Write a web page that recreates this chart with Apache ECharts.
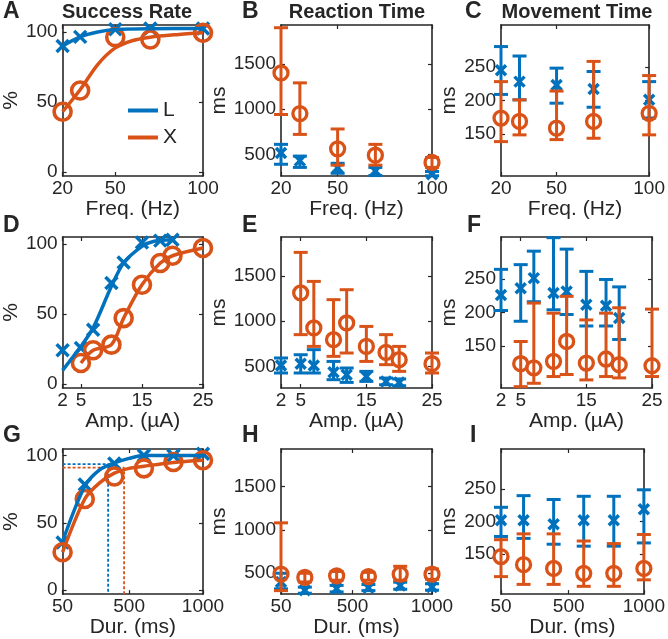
<!DOCTYPE html>
<html><head><meta charset="utf-8">
<script src="https://cdn.jsdelivr.net/npm/echarts@6/dist/echarts.min.js"></script>
<style>html,body{margin:0;padding:0;background:#fff}#c{width:668px;height:639px}</style>
</head><body><div id="c"></div>
<script>
// ---------------- DATA ----------------
// Row 1: stimulation frequency (Hz)
const freqs = [20, 30, 50, 70, 100];
const freqTicks = [20, 50, 100];
const successFreqL = [90, 96.5, 102, 102.5, 102.5];
const successFreqX = [43, 58.2, 96.3, 94.6, 99.4];
const fitFreqLx = [20, 30, 40, 50, 70, 100];
const fitFreqL  = [90, 96.5, 100, 101.8, 102.4, 102.5];
const fitFreqXx = [20, 30, 40, 50, 60, 70, 85, 100];
const fitFreqX  = [43, 58.7, 76.7, 88.6, 93.9, 96.3, 98.1, 99.4];
const rtFreqL   = [515, 430, 350, 315, 280];
const rtFreqLlo = [390, 355, 290, 265, 262];
const rtFreqLhi = [610, 480, 400, 355, 310];
const rtFreqX   = [1400, 950, 560, 490, 410];
const rtFreqXlo = [940, 720, 380, 380, 355];
const rtFreqXhi = [1900, 1290, 780, 610, 465];
const mtFreqL   = [245, 228, 223, 217, 201];
const mtFreqLlo = [209, 201, 196, 190, 174];
const mtFreqLhi = [280, 266, 248, 243, 228];
const mtFreqX   = [174, 169, 159, 169, 181];
const mtFreqXlo = [139, 149, 142, 144, 149];
const mtFreqXhi = [228, 201, 214, 258, 237];

// Row 2: amplitude (µA)
const ampsL = [2, 5, 7, 10, 12, 15, 18, 20];
const ampsX = [5, 7, 10, 12, 15, 18, 20, 25];
const ampTicks = [2, 5, 15, 25];
const successAmpL = [24, 25.6, 38.7, 72.1, 86.8, 101, 102.4, 103];
const successAmpX = [14.9, 24, 28, 47, 70.9, 86.4, 91.6, 97.1];
const fitAmpLx = [2, 5, 7, 10, 12, 15, 17, 20];
const fitAmpL  = [9.6, 26.8, 40, 69.7, 86.4, 98.3, 101.9, 103];
const fitAmpXx = [5, 7, 10, 12, 15, 18, 20, 25];
const fitAmpX  = [14.9, 24, 28, 47, 70.9, 86.4, 91.6, 97.1];
const rtAmpL   = [510, 529, 510, 433, 407, 388, 333, 322];
const rtAmpLlo = [426, 426, 426, 352, 322, 333, 296, 285];
const rtAmpLhi = [592, 628, 684, 554, 481, 444, 370, 360];
const rtAmpX   = [1311, 924, 794, 979, 720, 654, 573, 529];
const rtAmpXlo = [850, 720, 610, 647, 554, 518, 444, 426];
const rtAmpXhi = [1760, 1439, 1237, 1347, 941, 850, 720, 647];
const mtAmpL   = [226, 236, 251, 229, 231, 211.5, 210, 192];
const mtAmpLlo = [203, 187, 216, 204, 197, 180, 180, 160];
const mtAmpLhi = [264, 271, 291, 311, 294, 261, 249, 238];
const mtAmpX   = [124, 118, 127.5, 157, 125, 131, 122.5, 121];
const mtAmpXlo = [90, 95, 105, 108, 100, 105, 103, 105];
const mtAmpXhi = [157, 214, 199, 224, 189, 199, 207, 205];

// Row 3: duration (ms)
const durs = [50, 200, 400, 600, 800, 1000];
const durTicks = [50, 500, 1000];
const successDurL = [35.4, 78.6, 94.2, 100.2, 100.2, 101.4];
const successDurX = [28.2, 67.8, 84.5, 90.6, 95.3, 96.6];
const fitDurLx = [50, 200, 300, 400, 500, 600, 1000];
const fitDurL  = [36.2, 77.3, 89.4, 94.6, 98, 100.2, 100.2];
const fitDurXx = [50, 200, 300, 400, 500, 600, 800, 1000];
const fitDurX  = [28.2, 67.8, 79.8, 87, 90.6, 92.2, 95, 96.6];
const threshL = [358, 93.7];   // [duration, %]
const threshX = [466, 91.1];
const rtDurL   = [400, 305, 323, 334, 360, 342];
const rtDurLlo = [320, 270, 285, 300, 316, 305];
const rtDurLhi = [500, 340, 360, 370, 397, 379];
const rtDurX   = [490, 452, 470, 462, 489, 489];
const rtDurXlo = [300, 400, 420, 420, 420, 430];
const rtDurXhi = [1080, 500, 520, 510, 580, 550];
const mtDurL   = [202, 202, 196, 202, 202, 219];
const mtDurLlo = [177, 174, 165, 162, 162, 167];
const mtDurLhi = [222, 240, 234, 239, 239, 249];
const mtDurX   = [146, 133.5, 127.6, 120, 120, 127.6];
const mtDurXlo = [115, 103, 103, 100, 100, 110];
const mtDurXhi = [172, 181, 181, 170, 166, 180];

const panelLetters = ['A','B','C','D','E','F','G','H','I'];
const columnTitles = ['Success Rate', 'Reaction Time', 'Movement Time'];
const xNames = ['Freq. (Hz)', 'Amp. (µA)', 'Dur. (ms)'];
const seriesNames = ['L', 'X'];

// ---------------- STYLE / LAYOUT ----------------
const BLUE = '#0072BD', ORANGE = '#D95319', INK = '#262626';
const FONT = "'Liberation Sans', Arial, Helvetica, sans-serif";
const ROW_TOP = [25, 237, 449], ROW_H = [151, 151, 149];
const COL_LEFT = [52, 281, 501], COL_W = 151;
const XLIM = [[20, 100], [2, 25], [50, 1000]];
const XTICKS = [freqTicks, ampTicks, durTicks];
const YLIM = [[-3, 105], [260, 1930], [88, 312]];
const YTICKS = [[0, 50, 100], [500, 1000, 1500], [150, 200, 250]];
const YNAMES = ['%', 'ms', 'ms'];
const YNAMEGAP = [33, 41, 41];
const plain = v => String(v);

const grids = [], xAxes = [], yAxes = [];
const axLine = {show: true, onZero: false, lineStyle: {color: INK, width: 1.6}};
for (let r = 0; r < 3; r++) {
  for (let c = 0; c < 3; c++) {
    const i = r * 3 + c;
    grids.push({left: COL_LEFT[c], top: ROW_TOP[r], width: COL_W, height: ROW_H[r], containLabel: false});
    xAxes[i] = {
      type: 'value', gridIndex: i, min: XLIM[r][0], max: XLIM[r][1], position: 'bottom',
      name: xNames[r], nameLocation: 'middle', nameGap: 16,
      nameTextStyle: {fontSize: 21, color: INK, fontFamily: FONT, verticalAlign: 'top'},
      axisLine: axLine,
      axisTick: {show: true, inside: true, length: 4, customValues: XTICKS[r], lineStyle: {color: INK, width: 1.2}},
      axisLabel: {show: true, customValues: XTICKS[r], formatter: plain, margin: 3, fontSize: 19, color: INK, fontFamily: FONT},
      splitLine: {show: false}
    };
    xAxes[9 + i] = {
      type: 'value', gridIndex: i, min: XLIM[r][0], max: XLIM[r][1], position: 'top',
      axisLine: axLine,
      axisTick: {show: true, inside: true, length: 4, customValues: XTICKS[r], lineStyle: {color: INK, width: 1.2}},
      axisLabel: {show: false}, splitLine: {show: false}
    };
    yAxes[i] = {
      type: 'value', gridIndex: i, min: YLIM[c][0], max: YLIM[c][1], position: 'left',
      name: YNAMES[c], nameLocation: 'middle', nameGap: YNAMEGAP[c], nameRotate: 90,
      nameTextStyle: {fontSize: 21, color: INK, fontFamily: FONT},
      axisLine: axLine,
      axisTick: {show: true, inside: true, length: 4, customValues: YTICKS[c], lineStyle: {color: INK, width: 1.2}},
      axisLabel: {show: true, customValues: YTICKS[c], formatter: plain, margin: 5, fontSize: 19, color: INK, fontFamily: FONT},
      splitLine: {show: false}
    };
    yAxes[9 + i] = {
      type: 'value', gridIndex: i, min: YLIM[c][0], max: YLIM[c][1], position: 'right',
      axisLine: axLine,
      axisTick: {show: true, inside: true, length: 4, customValues: YTICKS[c], lineStyle: {color: INK, width: 1.2}},
      axisLabel: {show: false}, splitLine: {show: false}
    };
  }
}

// ---------------- RENDER HELPERS ----------------
function markerShape(kind, p, color, big) {
  if (kind === 'o') {
    return {type: 'circle', shape: {cx: p[0], cy: p[1], r: big ? 8.5 : 7},
            style: {fill: 'rgba(0,0,0,0)', stroke: color, lineWidth: big ? 3.6 : 3.3}};
  }
  const s = big ? 6 : 5;
  return {type: 'group', children: [
    {type: 'line', shape: {x1: p[0]-s, y1: p[1]-s, x2: p[0]+s, y2: p[1]+s}, style: {stroke: color, lineWidth: 3.5}},
    {type: 'line', shape: {x1: p[0]-s, y1: p[1]+s, x2: p[0]+s, y2: p[1]-s}, style: {stroke: color, lineWidth: 3.5}}
  ]};
}
function errSeries(idx, xs, mean, lo, hi, kind, color) {
  return {
    type: 'custom', xAxisIndex: idx, yAxisIndex: idx, clip: false,
    data: xs.map((x, k) => [x, mean[k], lo[k], hi[k]]),
    encode: {x: 0, y: 1},
    renderItem: function (params, api) {
      const pm = api.coord([api.value(0), api.value(1)]);
      const pl = api.coord([api.value(0), api.value(2)]);
      const ph = api.coord([api.value(0), api.value(3)]);
      const st = {stroke: color, lineWidth: 3};
      const cap = 7;
      return {type: 'group', children: [
        {type: 'line', shape: {x1: pm[0], y1: pl[1], x2: pm[0], y2: ph[1]}, style: st},
        {type: 'line', shape: {x1: pm[0]-cap, y1: pl[1], x2: pm[0]+cap, y2: pl[1]}, style: st},
        {type: 'line', shape: {x1: pm[0]-cap, y1: ph[1], x2: pm[0]+cap, y2: ph[1]}, style: st},
        markerShape(kind, pm, color, false)
      ]};
    }
  };
}
function markSeries(idx, xs, ys, kind, color) {
  return {
    type: 'custom', xAxisIndex: idx, yAxisIndex: idx, clip: false,
    data: xs.map((x, k) => [x, ys[k]]),
    encode: {x: 0, y: 1},
    renderItem: function (params, api) {
      return markerShape(kind, api.coord([api.value(0), api.value(1)]), color, true);
    }
  };
}
function fitSeries(idx, xs, ys, color, name) {
  return {
    type: 'line', name: name, xAxisIndex: idx, yAxisIndex: idx, smooth: 0.3,
    symbol: 'none', color: color, lineStyle: {color: color, width: 3.5},
    data: xs.map((x, k) => [x, ys[k]]), z: 2
  };
}
function dashSeries(idx, th, color, ymin, xmin) {
  return {
    type: 'line', xAxisIndex: idx, yAxisIndex: idx, symbol: 'none',
    lineStyle: {color: color, width: 1.8, type: [3, 2]},
    data: [[xmin, th[1]], [th[0], th[1]], [th[0], ymin]], z: 1
  };
}

const series = [
  // A
  fitSeries(0, fitFreqLx, fitFreqL, BLUE, seriesNames[0]),
  fitSeries(0, fitFreqXx, fitFreqX, ORANGE, seriesNames[1]),
  markSeries(0, freqs, successFreqL, 'x', BLUE),
  markSeries(0, freqs, successFreqX, 'o', ORANGE),
  // B
  errSeries(1, freqs, rtFreqL, rtFreqLlo, rtFreqLhi, 'x', BLUE),
  errSeries(1, freqs, rtFreqX, rtFreqXlo, rtFreqXhi, 'o', ORANGE),
  // C
  errSeries(2, freqs, mtFreqL, mtFreqLlo, mtFreqLhi, 'x', BLUE),
  errSeries(2, freqs, mtFreqX, mtFreqXlo, mtFreqXhi, 'o', ORANGE),
  // D
  fitSeries(3, fitAmpLx, fitAmpL, BLUE, 'fitAmpL'),
  fitSeries(3, fitAmpXx, fitAmpX, ORANGE, 'fitAmpX'),
  markSeries(3, ampsL, successAmpL, 'x', BLUE),
  markSeries(3, ampsX, successAmpX, 'o', ORANGE),
  // E
  errSeries(4, ampsL, rtAmpL, rtAmpLlo, rtAmpLhi, 'x', BLUE),
  errSeries(4, ampsX, rtAmpX, rtAmpXlo, rtAmpXhi, 'o', ORANGE),
  // F
  errSeries(5, ampsL, mtAmpL, mtAmpLlo, mtAmpLhi, 'x', BLUE),
  errSeries(5, ampsX, mtAmpX, mtAmpXlo, mtAmpXhi, 'o', ORANGE),
  // G
  dashSeries(6, threshL, BLUE, YLIM[0][0], XLIM[2][0]),
  dashSeries(6, threshX, ORANGE, YLIM[0][0], XLIM[2][0]),
  fitSeries(6, fitDurLx, fitDurL, BLUE, 'fitDurL'),
  fitSeries(6, fitDurXx, fitDurX, ORANGE, 'fitDurX'),
  markSeries(6, durs, successDurL, 'x', BLUE),
  markSeries(6, durs, successDurX, 'o', ORANGE),
  // H
  errSeries(7, durs, rtDurL, rtDurLlo, rtDurLhi, 'x', BLUE),
  errSeries(7, durs, rtDurX, rtDurXlo, rtDurXhi, 'o', ORANGE),
  // I
  errSeries(8, durs, mtDurL, mtDurLlo, mtDurLhi, 'x', BLUE),
  errSeries(8, durs, mtDurX, mtDurXlo, mtDurXhi, 'o', ORANGE)
];

// ---------------- TEXT ----------------
const letterPos = [[3, 12], [242, 12], [465, 12], [3, 226], [242, 226], [467, 226], [3, 436], [242, 436], [470, 436]];
const titleCenters = [127, 357, 577];
const graphics = [];
panelLetters.forEach((t, i) => graphics.push({
  type: 'text', x: letterPos[i][0], y: letterPos[i][1],
  style: {text: t, font: 'bold 23px ' + FONT, fill: INK, align: 'left', verticalAlign: 'middle'}
}));
columnTitles.forEach((t, i) => graphics.push({
  type: 'text', x: titleCenters[i], y: 12,
  style: {text: t, font: 'bold 20px ' + FONT, fill: INK, align: 'center', verticalAlign: 'middle'}
}));

const chart = echarts.init(document.getElementById('c'), null, {renderer: 'canvas'});
chart.setOption({
  animation: false,
  backgroundColor: '#fff',
  grid: grids, xAxis: xAxes, yAxis: yAxes,
  legend: {
    data: seriesNames, orient: 'vertical', left: 123, top: 95, itemWidth: 30, itemHeight: 4,
    itemGap: 6, icon: 'rect', selectedMode: false,
    textStyle: {fontSize: 21, color: INK, fontFamily: FONT}
  },
  graphic: graphics,
  series: series
});
</script>
</body></html>
